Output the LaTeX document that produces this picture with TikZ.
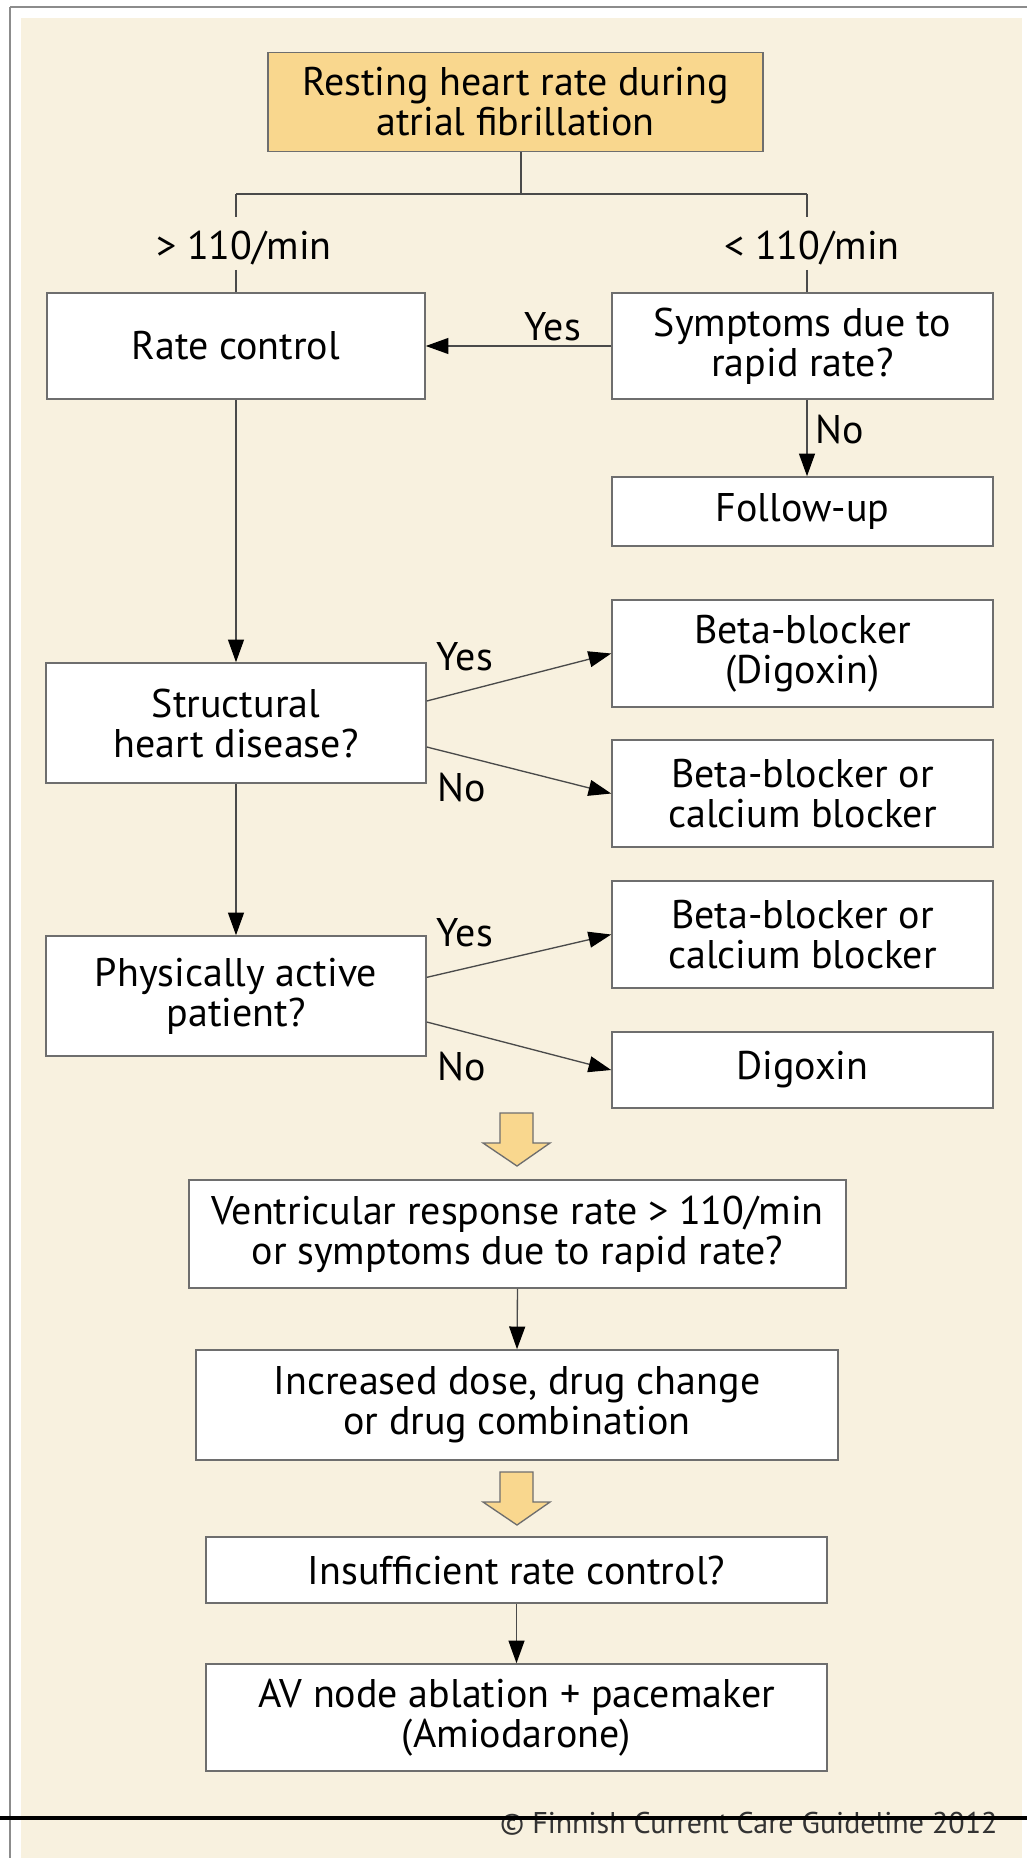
\documentclass[tikz,border=0pt]{standalone}
\usepackage{fontspec}
\setmainfont{PT Sans}
\usetikzlibrary{arrows.meta}

\definecolor{bgbeige}{HTML}{F8F1DF}
\definecolor{titlefill}{HTML}{F9D78E}
\definecolor{boxline}{HTML}{6E6E6E}
\definecolor{connline}{HTML}{4A4A4A}
\definecolor{framegray}{HTML}{8C8C8C}

\tikzset{every picture/.style={line width=0.75pt}}
\tikzset{
  flowbox/.style={draw=boxline, fill=white, line width=1.2pt, align=center, inner sep=0pt, font=\fontsize{30}{30}\selectfont},
  boxsize/.style 2 args={minimum width=#1*0.75pt, minimum height=#2*0.75pt},
  lbl/.style={font=\fontsize{30}{30}\selectfont, inner sep=0pt},
  conn/.style={draw=connline, line width=1pt},
  arr/.style={conn, -{Triangle[length=17pt,width=12pt,color=black]}},
  fatarrow/.style={draw=boxline, fill=titlefill, line width=1pt, line join=miter},
}

\begin{document}
\begin{tikzpicture}[x=0.75pt,y=0.75pt,yscale=-1,xscale=1]
\useasboundingbox (0,0) rectangle (1027,1858);

%Background and frame
\fill[white] (0,0) rectangle (1027,1858);
\fill[bgbeige] (21,18) rectangle (1022,1858);
\draw[framegray, line width=2.2pt] (10,7) -- (1027,7);
\draw[framegray, line width=2.2pt] (10,7) -- (10,1858);

%Boxes
\node[flowbox, fill=titlefill, boxsize={495}{99}] (title) at (515.5,102) {Resting heart rate during\\atrial fibrillation};
\node[flowbox, boxsize={378}{106}] (rate) at (236,346) {Rate control};
\node[flowbox, boxsize={381}{106}] (symp) at (802.5,346) {Symptoms due to\\rapid rate?};
\node[flowbox, boxsize={381}{69}] (follow) at (802.5,511.5) {Follow-up};
\node[flowbox, boxsize={380}{120}] (struct) at (236,723) {Structural\\heart disease?};
\node[flowbox, boxsize={381}{107}] (betadig) at (802.5,653.5) {Beta-blocker\\(Digoxin)};
\node[flowbox, boxsize={381}{107}] (betacal) at (802.5,793.5) {Beta-blocker or\\calcium blocker};
\node[flowbox, boxsize={380}{120}] (phys) at (236,996) {Physically active\\patient?};
\node[flowbox, boxsize={381}{107}] (betacaltwo) at (802.5,934.5) {Beta-blocker or\\calcium blocker};
\node[flowbox, boxsize={381}{76}] (digox) at (802.5,1070) {Digoxin};
\node[flowbox, boxsize={657}{108}] (ventr) at (517.5,1234) {Ventricular response rate > 110/min\\or symptoms due to rapid rate?};
\node[flowbox, boxsize={642}{110}] (incr) at (517,1405) {Increased dose, drug change\\or drug combination};
\node[flowbox, boxsize={621}{66}] (insuff) at (516.5,1570) {Insufficient rate control?};
\node[flowbox, boxsize={621}{107}] (avnode) at (516.5,1717.5) {AV node ablation + pacemaker\\(Amiodarone)};

%Split under the title
\coordinate (split) at (521,194);
\coordinate (lsplit) at (236,194);
\coordinate (rsplit) at (807,194);
\coordinate (lstop) at (236,217);
\coordinate (rstop) at (807,217);
\coordinate (lresume) at (236,270);
\coordinate (rresume) at (807,270);
\draw[conn] (title.south -| split) -- (split);
\draw[conn] (lsplit) -- (rsplit);
\draw[conn] (lsplit) -- (lstop);
\draw[conn] (rsplit) -- (rstop);
\draw[conn] (lresume) -- (lresume |- rate.north);
\draw[conn] (rresume) -- (rresume |- symp.north);

% Text Node
\node[lbl] (fast) at (244,248) {> 110/min};
% Text Node
\node[lbl] (slow) at (812,248) {< 110/min};

%Arrows
\draw[arr] (symp.west) -- (rate.east);
\draw[arr] (symp.south -| rsplit) -- (follow.north -| rsplit);
\draw[arr] (rate.south) -- (struct.north);
\draw[arr] ([yshift=-16.5pt]struct.east) -- (betadig.west);
\draw[arr] ([yshift=18pt]struct.east) -- (betacal.west);
\draw[arr] (struct.south) -- (phys.north);
\draw[arr] ([yshift=-14pt]phys.east) -- (betacaltwo.west);
\draw[arr] ([yshift=19.5pt]phys.east) -- (digox.west);
\draw[arr] (ventr.south) -- (incr.north);
\draw[arr] (insuff.south) -- (avnode.north);

% Text Node
\node[lbl] (yesrate) at (553,327) {Yes};
% Text Node
\node[lbl] (nofollow) at (840,430) {No};
% Text Node
\node[lbl] (yesstruct) at (465,657) {Yes};
% Text Node
\node[lbl] (nostruct) at (462,788) {No};
% Text Node
\node[lbl] (yesphys) at (465,933) {Yes};
% Text Node
\node[lbl] (nophys) at (462,1067) {No};

%Fat arrows
\draw[fatarrow] (500,1113) -- (533,1113) -- (533,1143) -- (550,1143) -- (517,1166) -- (483,1143) -- (500,1143) -- cycle;
\draw[fatarrow] (500,1472) -- (533,1472) -- (533,1502) -- (550,1502) -- (517,1525) -- (483,1502) -- (500,1502) -- cycle;

%Footer
\node[anchor=base east, inner sep=0pt, text=black!80, font=\fontsize{22.5}{22.5}\selectfont] (credit) at (998,1833) {© Finnish Current Care Guideline 2012};
\draw[black, line width=2.6pt] (0,1818) -- (1027,1818);

\end{tikzpicture}
\end{document}
